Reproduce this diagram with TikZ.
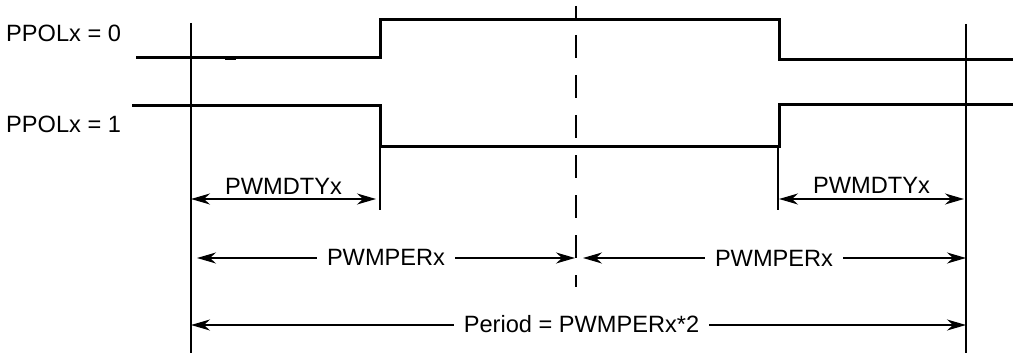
\documentclass[tikz,border=0pt]{standalone}
\usepackage{fontspec}
\setmainfont{Liberation Sans}
\usetikzlibrary{arrows.meta}
\begin{document}
\begin{tikzpicture}[x=1pt,y=-1pt,
  sig/.style={line width=3pt, line join=miter},
  thinln/.style={line width=1.3pt},
  dimln/.style={thinln, {Stealth[length=19pt,width=11pt,inset=6pt]}-{Stealth[length=19pt,width=11pt,inset=6pt]}},
  halfln/.style={thinln, -{Stealth[length=19pt,width=11pt,inset=6pt]}},
  lbl/.style={font=\fontsize{23.6pt}{28pt}\selectfont, inner sep=0pt, anchor=base},
  gaplbl/.style={lbl, inner xsep=10pt}]
\useasboundingbox (0,0) rectangle (1013,353);

% reference verticals
\coordinate (lt) at (191,23);  \coordinate (lb) at (191,353);
\coordinate (rt) at (966,24);  \coordinate (rb) at (966,353);
\draw[thinln] (lt) -- (lb);
\draw[thinln] (rt) -- (rb);
\coordinate (e1t) at (380,146); \coordinate (e1b) at (380,210);
\coordinate (e2t) at (778,147); \coordinate (e2b) at (778,210);
\draw[thinln] (e1t) -- (e1b);
\draw[thinln] (e2t) -- (e2b);

% centre dashed line
\coordinate (ct) at (576,6); \coordinate (cb) at (576,287);
\draw[thinln, dash pattern=on 23pt off 17pt, dash phase=11pt] (ct) -- (cb);

% signals
\draw[sig] (136,58) -- (380,58) -- (380,20) -- (779,20) -- (779,60) -- (1013,60);
\draw[sig] (132,106) -- (380,106) -- (380,146) -- (779,146) -- (779,105) -- (1013,105);
\draw[line width=3.8pt] (225,58) -- (236,58);

% signal labels
\node[lbl, anchor=base west] (p0) at (6,42) {PPOLx = 0};
\node[lbl, anchor=base west] (p1) at (6,132) {PPOLx = 1};

% PWMDTYx dimensions
\coordinate (d1a) at (191,199); \coordinate (d1b) at (376,199);
\draw[dimln] (d1a) -- (d1b);
\node[lbl] (dty1) at (283.5,194) {PWMDTYx};
\coordinate (d2a) at (779,199); \coordinate (d2b) at (964,199);
\draw[dimln] (d2a) -- (d2b);
\node[lbl] (dty2) at (871.5,193) {PWMDTYx};

% PWMPERx dimensions
\coordinate (m1a) at (197,258); \coordinate (m1b) at (575,258);
\node[gaplbl] (per1) at (386,265) {PWMPERx};
\draw[halfln] (per1.west |- m1a) -- (m1a);
\draw[halfln] (per1.east |- m1b) -- (m1b);
\coordinate (m2a) at (583,258); \coordinate (m2b) at (966,258);
\node[gaplbl] (per2) at (774,266) {PWMPERx};
\draw[halfln] (per2.west |- m2a) -- (m2a);
\draw[halfln] (per2.east |- m2b) -- (m2b);

% Period
\coordinate (ta) at (191,325); \coordinate (tb) at (966,325);
\node[gaplbl] (tot) at (581.5,332) {Period = PWMPERx*2};
\draw[halfln] (tot.west |- ta) -- (ta);
\draw[halfln] (tot.east |- tb) -- (tb);
\end{tikzpicture}
\end{document}
